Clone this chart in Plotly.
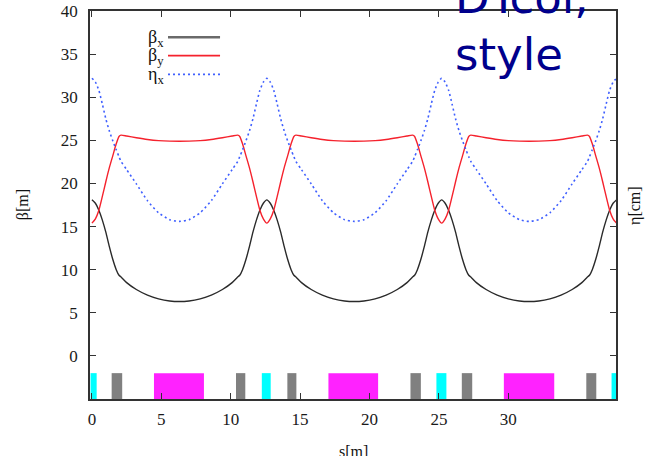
import plotly.graph_objects as go

# ---------------- data ----------------
S = [0, 0.25, 0.5, 0.75, 1.0, 1.25, 1.5, 1.75, 1.95, 2.1, 2.5, 3.2, 4.0, 4.8, 5.6, 6.3,
     7.0, 7.8, 8.6, 9.4, 10.1, 10.5, 10.65, 10.85, 11.1, 11.35, 11.6, 11.85, 12.1, 12.35, 12.6,
     12.85, 13.1, 13.35, 13.6, 13.85, 14.1, 14.35, 14.55, 14.7, 15.1, 15.8, 16.6, 17.4, 18.2, 18.9,
     19.6, 20.4, 21.2, 22.0, 22.7, 23.1, 23.25, 23.45, 23.7, 23.95, 24.2, 24.45, 24.7, 24.95, 25.2,
     25.45, 25.7, 25.95, 26.2, 26.45, 26.7, 26.95, 27.15, 27.3, 27.7, 28.4, 29.2, 30.0, 30.8, 31.5,
     32.2, 33.0, 33.8, 34.6, 35.3, 35.7, 35.85, 36.05, 36.3, 36.55, 36.8, 37.05, 37.3, 37.55, 37.8]

BETA_X = [18.1, 17.7, 16.9, 15.75, 14.35, 12.7, 11.2, 10.0, 9.35, 9.15, 8.5, 7.7, 7.05, 6.62, 6.37, 6.3,
          6.37, 6.62, 7.05, 7.7, 8.5, 9.15, 9.35, 10.0, 11.2, 12.7, 14.35, 15.75, 16.9, 17.7, 18.1,
          17.7, 16.9, 15.75, 14.35, 12.7, 11.2, 10.0, 9.35, 9.15, 8.5, 7.7, 7.05, 6.62, 6.37, 6.3,
          6.37, 6.62, 7.05, 7.7, 8.5, 9.15, 9.35, 10.0, 11.2, 12.7, 14.35, 15.75, 16.9, 17.7, 18.1,
          17.7, 16.9, 15.75, 14.35, 12.7, 11.2, 10.0, 9.35, 9.15, 8.5, 7.7, 7.05, 6.62, 6.37, 6.3,
          6.37, 6.62, 7.05, 7.7, 8.5, 9.15, 9.35, 10.0, 11.2, 12.7, 14.35, 15.75, 16.9, 17.7, 18.1]

BETA_Y = [15.4, 15.9, 16.9, 18.5, 20.2, 21.8, 23.2, 24.6, 25.45, 25.6, 25.5, 25.3, 25.1, 24.97, 24.91, 24.9,
          24.91, 24.97, 25.1, 25.3, 25.5, 25.6, 25.45, 24.6, 23.2, 21.8, 20.2, 18.5, 16.9, 15.9, 15.4,
          15.9, 16.9, 18.5, 20.2, 21.8, 23.2, 24.6, 25.45, 25.6, 25.5, 25.3, 25.1, 24.97, 24.91, 24.9,
          24.91, 24.97, 25.1, 25.3, 25.5, 25.6, 25.45, 24.6, 23.2, 21.8, 20.2, 18.5, 16.9, 15.9, 15.4,
          15.9, 16.9, 18.5, 20.2, 21.8, 23.2, 24.6, 25.45, 25.6, 25.5, 25.3, 25.1, 24.97, 24.91, 24.9,
          24.91, 24.97, 25.1, 25.3, 25.5, 25.6, 25.45, 24.6, 23.2, 21.8, 20.2, 18.5, 16.9, 15.9, 15.4]

ETA_X = [32.2, 31.75, 30.8, 29.2, 27.5, 26.1, 24.95, 23.9, 23.1, 22.55, 21.6, 19.95, 18.0, 16.6, 15.8, 15.6,
         15.8, 16.6, 18.0, 19.95, 21.6, 22.55, 23.1, 23.9, 24.95, 26.1, 27.5, 29.2, 30.8, 31.75, 32.2,
         31.75, 30.8, 29.2, 27.5, 26.1, 24.95, 23.9, 23.1, 22.55, 21.6, 19.95, 18.0, 16.6, 15.8, 15.6,
         15.8, 16.6, 18.0, 19.95, 21.6, 22.55, 23.1, 23.9, 24.95, 26.1, 27.5, 29.2, 30.8, 31.75, 32.2,
         31.75, 30.8, 29.2, 27.5, 26.1, 24.95, 23.9, 23.1, 22.55, 21.6, 19.95, 18.0, 16.6, 15.8, 15.6,
         15.8, 16.6, 18.0, 19.95, 21.6, 22.55, 23.1, 23.9, 24.95, 26.1, 27.5, 29.2, 30.8, 31.75, 32.2]

# lattice elements: start, end, kind
ELEM_START = [-0.1, 1.42, 4.47, 10.38, 12.24, 14.08, 17.04, 22.95, 24.82, 26.65, 29.68, 35.62, 37.44]
ELEM_END = [0.34, 2.18, 8.07, 11.05, 12.88, 14.73, 20.62, 23.70, 25.54, 27.40, 33.31, 36.34, 37.9]
ELEM_KIND = ["qf", "qd", "bend", "qd", "qf", "qd", "bend", "qd", "qf", "qd", "bend", "qd", "qf"]
ELEM_BOTTOM = -5
ELEM_TOP = -2

X_TICKS = [0, 5, 10, 15, 20, 25, 30]
Y_TICKS = [0, 5, 10, 15, 20, 25, 30, 35, 40]

# ---------------- styles ----------------
C_BX = "#2a2a2a"
C_BY = "#f5222d"
C_ETA = "#3f5fff"
ELEM_COLOR = {"qf": "#00ffff", "qd": "#808080", "bend": "#ff22ff"}
SERIF = "Liberation Serif"

fig = go.Figure()

for kind in ["qf", "qd", "bend"]:
    xs, ws = [], []
    for a, b, k in zip(ELEM_START, ELEM_END, ELEM_KIND):
        if k == kind:
            xs.append((a + b) / 2)
            ws.append(b - a)
    fig.add_trace(go.Bar(x=xs, y=[ELEM_TOP - ELEM_BOTTOM] * len(xs), base=ELEM_BOTTOM,
                         width=ws, marker=dict(color=ELEM_COLOR[kind], line=dict(width=0)),
                         showlegend=False, hoverinfo="skip"))

fig.add_trace(go.Scatter(x=S, y=BETA_X, mode="lines", name="βx",
                         line=dict(color=C_BX, width=1.4, shape="spline", smoothing=0.6)))
fig.add_trace(go.Scatter(x=S, y=BETA_Y, mode="lines", name="βy",
                         line=dict(color=C_BY, width=1.4, shape="spline", smoothing=0.6)))
fig.add_trace(go.Scatter(x=S, y=ETA_X, mode="lines", name="ηx",
                         line=dict(color=C_ETA, width=1.6, dash="2px,3px", shape="spline", smoothing=0.6)))

# legend (gnuplot style: label then sample)
leg = [("β<sub>x</sub>", 36.95, dict(color="#6a6a6a", width=2.4)),
       ("β<sub>y</sub>", 34.82, dict(color=C_BY, width=1.6)),
       ("η<sub>x</sub>", 32.66, dict(color=C_ETA, width=1.8, dash="2px,3px"))]
for txt, yy, ln in leg:
    fig.add_shape(type="line", xref="x", yref="y", x0=5.48, x1=9.23, y0=yy, y1=yy, line=ln)
    fig.add_annotation(x=5.3, y=yy, xref="x", yref="y", text=txt, showarrow=False,
                       xanchor="right", yanchor="middle", yshift=-1,
                       font=dict(family=SERIF, size=18, color="#111"))

# axis titles
fig.add_annotation(x=-0.127, y=0.5, xref="paper", yref="paper", text="β[m]", textangle=-90,
                   showarrow=False, xanchor="center", yanchor="middle",
                   font=dict(family=SERIF, size=16, color="#111"))
fig.add_annotation(x=1.036, y=0.5, xref="paper", yref="paper", text="η[cm]", textangle=-90,
                   showarrow=False, xanchor="center", yanchor="middle",
                   font=dict(family=SERIF, size=16, color="#111"))
fig.add_annotation(x=0.5, y=-0.108, xref="paper", yref="paper", text="s[m]",
                   showarrow=False, xanchor="center", yanchor="top",
                   font=dict(family=SERIF, size=16, color="#111"))

# overlaid slide text
fig.add_annotation(x=0.690, y=1.034, xref="paper", yref="paper", text="DTcol,", showarrow=False,
                   xanchor="left", yanchor="middle",
                   font=dict(family="Comic Sans MS, DejaVu Sans", size=45, color="#00008c"))
fig.add_annotation(x=0.690, y=0.887, xref="paper", yref="paper", text="style", showarrow=False,
                   xanchor="left", yanchor="middle",
                   font=dict(family="Comic Sans MS, DejaVu Sans", size=45, color="#00008c"))

axis_common = dict(showgrid=False, zeroline=False, showline=True, linecolor="#333", linewidth=1.5,
                   mirror="ticks", ticks="inside", ticklen=6, tickcolor="#333", tickwidth=1.2,
                   automargin=False,
                   tickfont=dict(family=SERIF, size=17, color="#1a1a1a"))

fig.update_layout(
    width=648, height=456,
    margin=dict(l=90, r=32, t=11, b=57),
    paper_bgcolor="white", plot_bgcolor="white",
    showlegend=False, barmode="overlay",
    xaxis=dict(range=[-0.14, 37.76], tickvals=X_TICKS, ticklabelstandoff=4, **axis_common),
    yaxis=dict(range=[-5, 40], tickvals=Y_TICKS, ticklabelstandoff=7, **axis_common),
)

fig.write_html("out.html", config={"displayModeBar": False},
               post_script="document.body.style.margin='0';document.body.style.overflow='hidden';")
